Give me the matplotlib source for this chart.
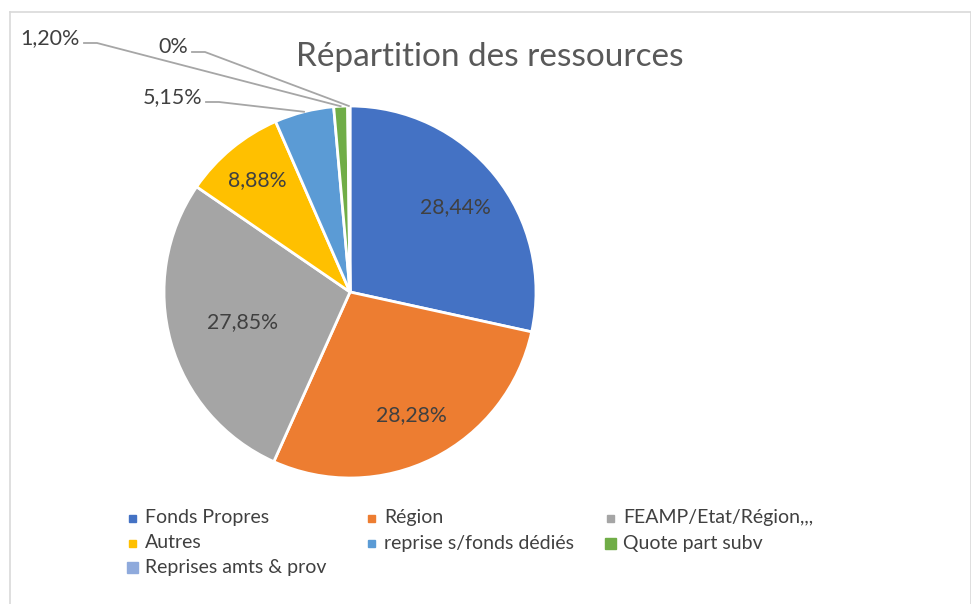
import numpy as np
import matplotlib.pyplot as plt
from matplotlib.patches import Rectangle
from matplotlib.lines import Line2D

categories = ["Fonds Propres", "Région", "FEAMP/Etat/Région,,,", "Autres",
              "reprise s/fonds dédiés", "Quote part subv", "Reprises amts & prov"]
values = [28.44, 28.28, 27.85, 8.88, 5.15, 1.20, 0.20]
value_labels = ["28,44%", "28,28%", "27,85%", "8,88%", "5,15%", "1,20%", "0%"]
colors = ["#4472C4", "#ED7D31", "#A5A5A5", "#FFC000", "#5B9BD5", "#70AD47", "#8FAADC"]

plt.rcParams['font.family'] = ['Lato', 'DejaVu Sans']
W, H = 971, 604
fig = plt.figure(figsize=(W / 100, H / 100), dpi=100)


def px(x, y):
    # pixel measured from top-left -> figure fraction
    return x / W, 1 - y / H


# frame (top and left edges only are visible)
fig.add_artist(Line2D([10 / W, 1, 1], [1 - 12 / H, 1 - 12 / H, 0], color='#D9D9D9', lw=1.2,
                      transform=fig.transFigure))
fig.add_artist(Line2D([10 / W, 10 / W], [1 - 12 / H, 0], color='#D9D9D9', lw=1.2,
                      transform=fig.transFigure))

cx, cy, R = 350, 292, 186
ax = fig.add_axes([(cx - R) / W, (H - cy - R) / H, 2 * R / W, 2 * R / H])
wedges, _ = ax.pie(values, colors=colors, startangle=90, counterclock=False,
                   wedgeprops=dict(edgecolor='white', linewidth=2))
ax.set_xlim(-1, 1)
ax.set_ylim(-1, 1)

# labels inside the big slices
inner_dist = [0.73, 0.74, 0.60, 0.78]
for w, lab, d in zip(wedges, value_labels, inner_dist):
    a = np.deg2rad((w.theta1 + w.theta2) / 2)
    ax.text(d * np.cos(a), d * np.sin(a), lab, ha='center', va='center',
            fontsize=15.3, color='#404040')

# labels with leader lines for the small slices
outer = {4: (202, 97), 5: (80, 38), 6: (188, 47)}
for i, (tx, ty) in outer.items():
    w = wedges[i]
    a = np.deg2rad((w.theta1 + w.theta2) / 2)
    ex, ey = fig.transFigure.inverted().transform(
        ax.transData.transform((np.cos(a), np.sin(a))))
    fig.text(*px(tx, ty), value_labels[i], ha='right', va='center',
             fontsize=15.5, color='#404040')
    x0, y0 = px(tx + 4, ty + 5)
    x1, _ = px(tx + 17, ty + 5)
    fig.add_artist(Line2D([x0, x1, ex], [y0, y0, ey], color='#A6A6A6', lw=1.3,
                          transform=fig.transFigure))

fig.text(*px(490, 57), "Répartition des ressources", ha='center', va='center',
         fontsize=24, color='#595959')

# legend, 3 columns
leg_x = [129, 368, 607]
leg_y = [518, 543, 567]
marker_sizes = [7, 7, 7, 7, 7, 11, 11]
for i, (name, c, s) in enumerate(zip(categories, colors, marker_sizes)):
    mx, my = leg_x[i % 3], leg_y[i // 3]
    fig.add_artist(Rectangle(px(mx - (s - 7) / 2, my + s / 2), s / W, s / H,
                             color=c, transform=fig.transFigure))
    fig.text(*px(mx + 16, my), name, ha='left', va='center',
             fontsize=14, color='#404040')

fig.savefig('out.png', dpi=100, facecolor='white')
